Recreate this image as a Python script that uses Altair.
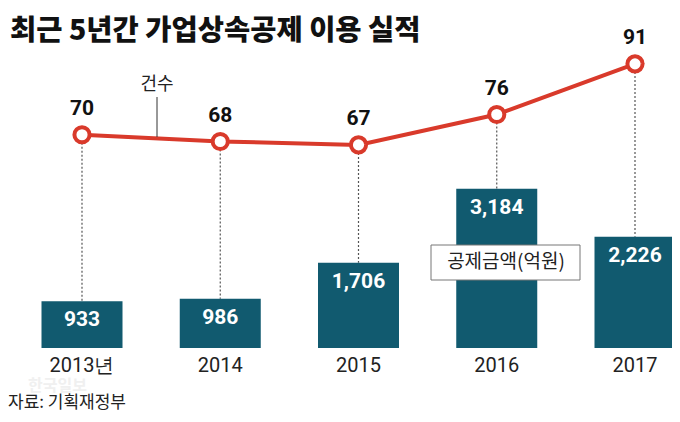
import altair as alt
import pandas as pd

# ---- data ----
years = [2013, 2014, 2015, 2016, 2017]
year_labels = ["2013년", "2014", "2015", "2016", "2017"]
counts = [70, 68, 67, 76, 91]            # 건수
amounts = [933, 986, 1706, 3184, 2226]   # 공제금액(억원)

df = pd.DataFrame({
    "year": years,
    "label": year_labels,
    "count": counts,
    "amount": amounts,
    "amount_txt": [f"{a:,}" for a in amounts],
})
one = pd.DataFrame({"k": [0]})

# ---- styling / layout constants ----
W, H = 664, 406
BAR_ZERO, BAR_UNITS_PER_PX = 340, 20
LINE_ZERO, LINE_PX_PER_UNIT = 363, 3.375
RED = "#d93a2b"
TEAL = "#115a6f"
KFONT = "Noto Sans CJK KR"
NFONT = "Roboto"

x = alt.X("year:Q", scale=alt.Scale(domain=[2013, 2017], range=[69, 632], nice=False, zero=False), axis=None)
bar_scale = alt.Scale(domain=[0, BAR_ZERO * BAR_UNITS_PER_PX], range=[BAR_ZERO, 0], nice=False, zero=False)
line_scale = alt.Scale(domain=[0, LINE_ZERO / LINE_PX_PER_UNIT], range=[LINE_ZERO, 0], nice=False, zero=False)

base = alt.Chart(df)

rules = base.transform_calculate(
    ytop=f"(datum.count*{LINE_PX_PER_UNIT}-{LINE_ZERO - BAR_ZERO})*{BAR_UNITS_PER_PX}"
).mark_rule(color="#555555", strokeWidth=1.2, strokeDash=[2, 2]).encode(
    x=x,
    y=alt.Y("ytop:Q", scale=bar_scale, axis=None),
    y2="amount:Q",
)

bars = base.mark_bar(color=TEAL, size=81).encode(
    x=x, y=alt.Y("amount:Q", scale=bar_scale, axis=None)
)
bar_text = base.mark_text(
    color="white", fontSize=21, fontWeight="bold", font=NFONT, baseline="middle", dy=19
).encode(x=x, y=alt.Y("amount:Q", scale=bar_scale, axis=None), text="amount_txt:N")

line = base.mark_line(color=RED, strokeWidth=4).encode(
    x=x, y=alt.Y("count:Q", scale=line_scale, axis=None)
)
points = base.mark_point(
    shape="circle", size=230, filled=False, fill="white", fillOpacity=1,
    stroke=RED, strokeWidth=4, opacity=1
).encode(x=x, y=alt.Y("count:Q", scale=line_scale, axis=None))
count_text = base.mark_text(
    color="#111111", fontSize=21, fontWeight="bold", font=NFONT, baseline="middle", dy=-26
).encode(x=x, y=alt.Y("count:Q", scale=line_scale, axis=None), text="count:Q")

x_labels = base.mark_text(
    color="#222222", fontSize=20, font=NFONT, baseline="middle"
).encode(x=x, y=alt.value(358), text="label:N")

# annotations
legend_rule = alt.Chart(one).mark_rule(color="#333333", strokeWidth=1).encode(
    x=alt.value(149), y=alt.value(89), y2=alt.value(129)
)
legend_text = alt.Chart(one).mark_text(
    text="건수", fontSize=18, font=KFONT, color="#222222", baseline="middle"
).encode(x=alt.value(149), y=alt.value(77))

box = alt.Chart(one).mark_rect(fill="white", stroke="#777777", strokeWidth=1).encode(
    x=alt.value(423), x2=alt.value(572), y=alt.value(237), y2=alt.value(272)
)
box_text = alt.Chart(one).mark_text(
    text="공제금액(억원)", fontSize=19, font=KFONT, color="#222222", baseline="middle"
).encode(x=alt.value(498), y=alt.value(254))

title = alt.Chart(one).mark_text(
    text="최근 5년간 가업상속공제 이용 실적", fontSize=28.5, fontWeight=900, font=KFONT,
    color="#111111", align="left", baseline="top"
).encode(x=alt.value(2), y=alt.value(9))

watermark = alt.Chart(one).mark_text(
    text="한국일보", fontSize=16, fontWeight="bold", font=KFONT,
    color="#f0f0f0", align="left", baseline="middle"
).encode(x=alt.value(20), y=alt.value(378))

source = alt.Chart(one).mark_text(
    text="자료: 기획재정부", fontSize=17, font=KFONT, color="#222222",
    align="left", baseline="alphabetic"
).encode(x=alt.value(0), y=alt.value(400))

chart = alt.layer(
    watermark, rules, bars, bar_text, line, points, count_text, x_labels,
    legend_rule, legend_text, box, box_text, title, source
).resolve_scale(y="independent").properties(
    width=W, height=H, padding=0, autosize=alt.AutoSizeParams(type="none")
).configure_view(strokeWidth=0)

chart.save("out.html", embed_options={"renderer": "svg", "actions": False})
